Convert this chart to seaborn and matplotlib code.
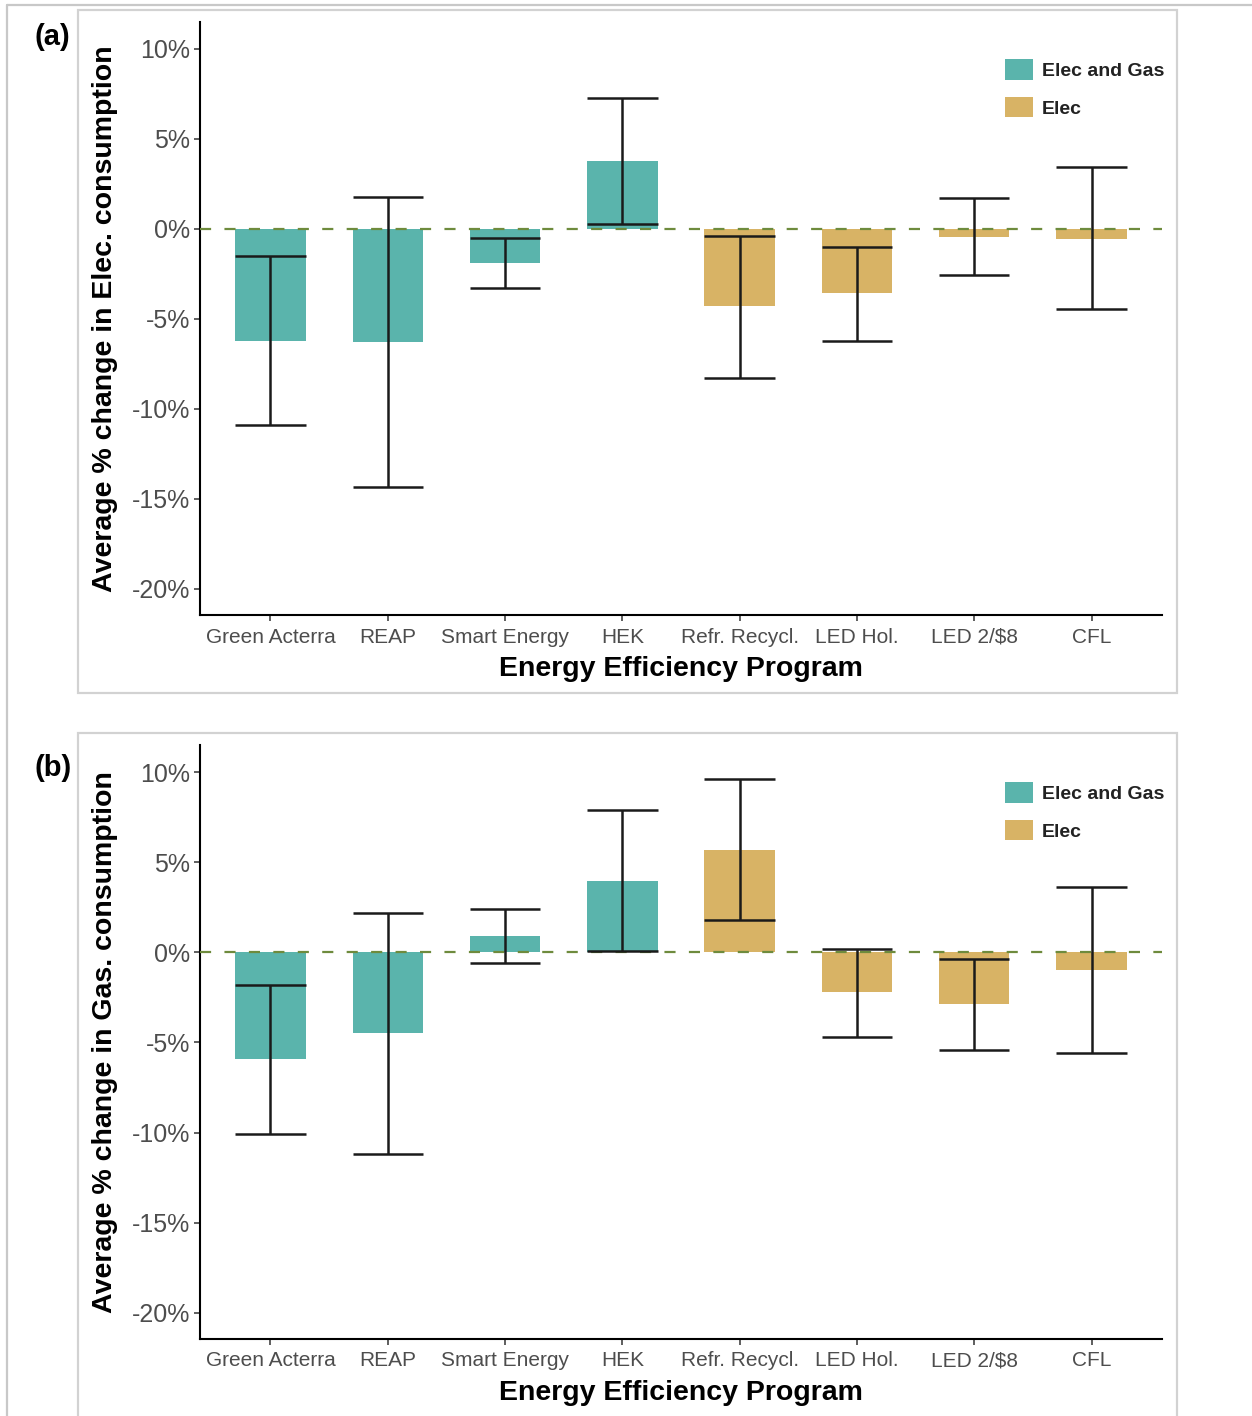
import matplotlib
matplotlib.use("Agg")
import matplotlib.pyplot as plt
import seaborn as sns
import pandas as pd
from matplotlib.patches import Rectangle, Patch
from matplotlib.lines import Line2D

# ---------------- data ----------------
programs = ["Green Acterra", "REAP", "Smart Energy", "HEK",
            "Refr. Recycl.", "LED Hol.", "LED 2/$8", "CFL"]
program_type = ["Elec and Gas", "Elec and Gas", "Elec and Gas", "Elec and Gas",
                "Elec", "Elec", "Elec", "Elec"]

elec_mean = [-6.2, -6.3, -1.9, 3.8, -4.3, -3.55, -0.45, -0.55]
elec_lo = [-10.9, -14.35, -3.3, 0.28, -8.3, -6.2, -2.55, -4.45]
elec_hi = [-1.5, 1.75, -0.5, 7.25, -0.4, -1.0, 1.7, 3.45]

gas_mean = [-5.9, -4.5, 0.9, 3.95, 5.7, -2.2, -2.85, -1.0]
gas_lo = [-10.1, -11.2, -0.6, 0.07, 1.8, -4.7, -5.4, -5.6]
gas_hi = [-1.8, 2.2, 2.4, 7.9, 9.6, 0.2, -0.35, 3.6]

type_order = ["Elec and Gas", "Elec"]
type_colors = ["#5AB4AC", "#D8B365"]
ytick_vals = [-20, -15, -10, -5, 0, 5, 10]
ytick_labels = ["-20%", "-15%", "-10%", "-5%", "0%", "5%", "10%"]
panel_labels = ["(a)", "(b)"]
ylabels = ["Average % change in Elec. consumption",
           "Average % change in Gas. consumption"]
xlabel = "Energy Efficiency Program"

# ---------------- style ----------------
sns.set_theme(style="white")
plt.rcParams["font.family"] = ["Liberation Sans", "DejaVu Sans"]

W, H = 1252, 1416
fig = plt.figure(figsize=(W / 100, H / 100), dpi=100)

# frame lines / panel boxes
fig.add_artist(Line2D([7 / W, 1], [1 - 5 / H, 1 - 5 / H], transform=fig.transFigure,
                      color="#C8C8C8", lw=1.6))
fig.add_artist(Line2D([7 / W, 7 / W], [0, 1 - 5 / H], transform=fig.transFigure,
                      color="#C8C8C8", lw=1.6))
fig.add_artist(Rectangle((78 / W, 1 - 693 / H), (1177 - 78) / W, (693 - 10) / H,
                         transform=fig.transFigure, fill=False,
                         edgecolor="#D2D2D2", lw=1.6))
fig.add_artist(Rectangle((78 / W, -0.02), (1177 - 78) / W, (1416 - 733) / H + 0.02,
                         transform=fig.transFigure, fill=False,
                         edgecolor="#D2D2D2", lw=1.6))

axes_px = [(22, 615), (745, 1339)]
datasets = [(elec_mean, elec_lo, elec_hi), (gas_mean, gas_lo, gas_hi)]
label_y = [37, 768]
legend_top = [59, 782]

pal = dict(zip(type_order, type_colors))

for k, ((top, bot), (mean, lo, hi)) in enumerate(zip(axes_px, datasets)):
    ax = fig.add_axes([200 / W, 1 - bot / H, 962 / W, (bot - top) / H])
    df = pd.DataFrame({"program": programs, "type": program_type,
                       "value": mean, "lo": lo, "hi": hi})
    sns.barplot(data=df, x="program", y="value", hue="type", hue_order=type_order,
                palette=pal, order=programs, dodge=False, width=0.6,
                saturation=1, ax=ax, legend=False, errorbar=None, zorder=2)
    for p in ax.patches:
        p.set_edgecolor("none")
    ax.axhline(0, color="#6E8B3D", lw=1.6, ls=(0, (5, 6)), zorder=3)
    xs = range(len(programs))
    ax.vlines(xs, df["lo"], df["hi"], color="#1a1a1a", lw=1.8, zorder=4)
    ax.hlines(df["lo"], [x - 0.3 for x in xs], [x + 0.3 for x in xs],
              color="#1a1a1a", lw=1.8, zorder=4)
    ax.hlines(df["hi"], [x - 0.3 for x in xs], [x + 0.3 for x in xs],
              color="#1a1a1a", lw=1.8, zorder=4)

    ax.set_xlim(-0.6, 7.6)
    ax.set_ylim(-21.45, 11.5)
    ax.set_yticks(ytick_vals)
    ax.set_yticklabels(ytick_labels)
    sns.despine(ax=ax)
    for s in ["left", "bottom"]:
        ax.spines[s].set_color("black")
        ax.spines[s].set_linewidth(1.5)
    ax.tick_params(axis="y", which="major", left=True, length=4, width=1.1,
                   color="#333333", labelsize=18, labelcolor="#4D4D4D", pad=3)
    ax.tick_params(axis="x", which="major", bottom=True, length=4, width=1.1,
                   color="#333333", labelsize=15, labelcolor="#4D4D4D", pad=5)
    ax.set_xlabel(xlabel, fontsize=20.5, fontweight="bold", color="black")
    ax.set_ylabel(ylabels[k], fontsize=20.5, fontweight="bold", color="black")
    ax.xaxis.set_label_coords(0.5, -0.069)
    ax.yaxis.set_label_coords(-0.085, 0.5)
    ax.set_facecolor("white")

    handles = [Patch(facecolor=c, edgecolor="none", label=t)
               for t, c in zip(type_order, type_colors)]
    leg = fig.legend(handles=handles, loc="upper right",
                     bbox_to_anchor=(1164 / W, 1 - legend_top[k] / H),
                     frameon=False, borderpad=0, borderaxespad=0,
                     handlelength=1.45, handleheight=1.25, labelspacing=0.88,
                     handletextpad=0.42, prop={"size": 14, "weight": "bold"})
    for t in leg.get_texts():
        t.set_color("#222222")

    fig.text(35 / W, 1 - label_y[k] / H, panel_labels[k], fontsize=21,
             fontweight="bold", ha="left", va="center", color="black")

fig.savefig("out.png", dpi=100, facecolor="white")
